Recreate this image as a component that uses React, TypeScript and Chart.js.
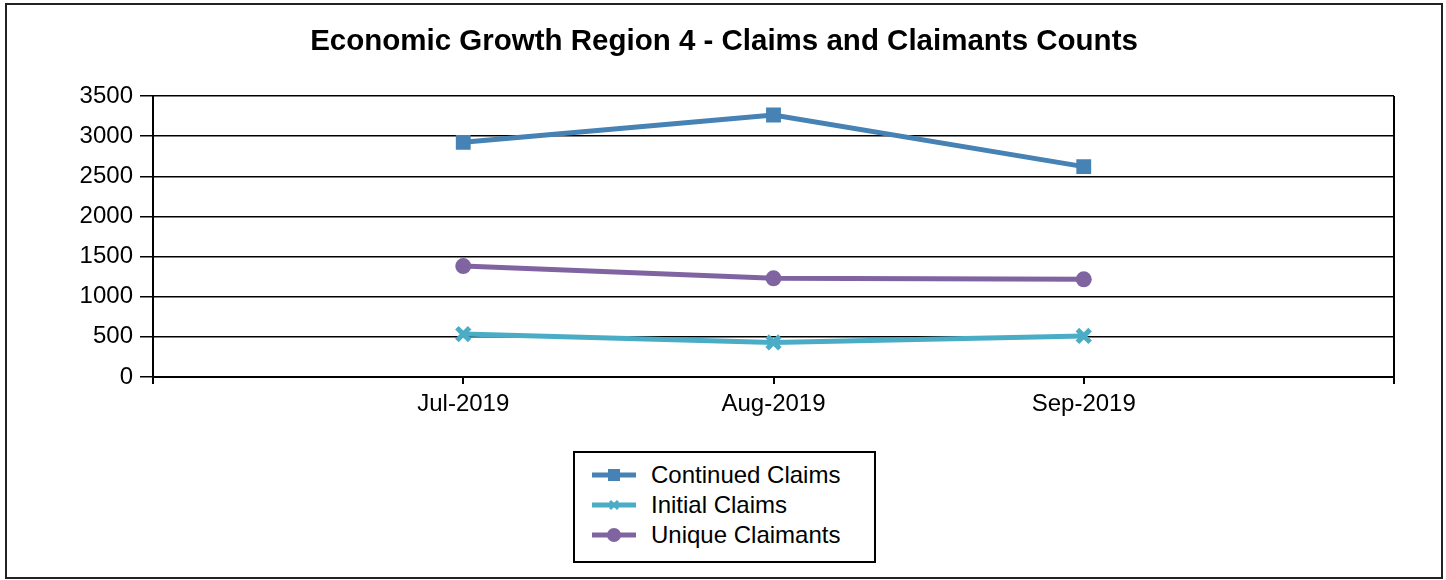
import React, { useEffect, useRef } from "react";
import { Chart, registerables } from "chart.js";

Chart.register(...registerables);

const categories = ["", "Jul-2019", "Aug-2019", "Sep-2019", ""];
const continuedClaims = [null, 2923, 3263, 2620, null];
const initialClaims = [null, 535, 430, 511, null];
const uniqueClaimants = [null, 1382, 1229, 1217, null];
const yTicksMax = 3500;
const yTickStep = 500;

const titleText = "Economic Growth Region 4 - Claims and Claimants Counts";
const FONT = '"Liberation Sans", Arial, sans-serif';

const COLORS = {
  continued: "#4682b4",
  initial: "#4bacc6",
  unique: "#8064a2",
};

const frameBorder = {
  id: "plotBorder",
  afterDraw(chart: any) {
    const { ctx, chartArea } = chart;
    ctx.save();
    ctx.strokeStyle = "#000";
    ctx.lineWidth = 2;
    ctx.beginPath();
    ctx.moveTo(chartArea.right, chartArea.top);
    ctx.lineTo(chartArea.right, chartArea.bottom);
    ctx.stroke();
    ctx.restore();
  },
};

function LegendMarker({ kind, color }: { kind: string; color: string }) {
  return (
    <svg width={44} height={16} style={{ display: "block" }}>
      <line x1={0} y1={8} x2={44} y2={8} stroke={color} strokeWidth={5} />
      {kind === "rect" && <rect x={16} y={2} width={12} height={12} fill={color} />}
      {kind === "cross" && (
        <g stroke={color} strokeWidth={3}>
          <line x1={18} y1={4} x2={26} y2={12} />
          <line x1={18} y1={12} x2={26} y2={4} />
        </g>
      )}
      {kind === "circle" && <circle cx={22} cy={8} r={7} fill={color} />}
    </svg>
  );
}

export default function App() {
  const canvasRef = useRef<HTMLCanvasElement | null>(null);

  useEffect(() => {
    if (!canvasRef.current) return;
    const chart = new Chart(canvasRef.current, {
      type: "line",
      data: {
        labels: categories,
        datasets: [
          {
            label: "Continued Claims",
            data: continuedClaims,
            borderColor: COLORS.continued,
            backgroundColor: COLORS.continued,
            borderWidth: 5,
            pointStyle: "rect",
            pointRadius: 10.5,
            pointBorderWidth: 0,
            tension: 0,
          },
          {
            label: "Initial Claims",
            data: initialClaims,
            borderColor: COLORS.initial,
            backgroundColor: COLORS.initial,
            borderWidth: 5,
            pointStyle: "crossRot",
            pointRadius: 9,
            pointBorderWidth: 5,
            pointBorderColor: COLORS.initial,
            tension: 0,
          },
          {
            label: "Unique Claimants",
            data: uniqueClaimants,
            borderColor: COLORS.unique,
            backgroundColor: COLORS.unique,
            borderWidth: 5,
            pointStyle: "circle",
            pointRadius: 8,
            pointBorderWidth: 0,
            tension: 0,
          },
        ],
      },
      options: {
        animation: false,
        responsive: true,
        maintainAspectRatio: false,
        layout: { padding: { left: 0, right: 0, top: 0, bottom: 0 } },
        plugins: {
          legend: { display: false },
          tooltip: { enabled: false },
          title: {
            display: true,
            text: titleText,
            color: "#000",
            font: { family: FONT, size: 29.5, weight: "bold" },
            padding: { top: 19, bottom: 36.6 },
          },
        },
        scales: {
          x: {
            type: "category",
            offset: false,
            grid: {
              display: true,
              drawOnChartArea: false,
              drawTicks: true,
              tickLength: 7,
              color: "#000",
              lineWidth: 2,
            },
            border: { display: true, color: "#000", width: 2 },
            ticks: {
              color: "#000",
              font: { family: FONT, size: 24 },
              padding: 6,
              autoSkip: false,
              maxRotation: 0,
            },
            afterFit(scale: any) {
              scale.height = 200;
            },
          },
          y: {
            min: 0,
            max: yTicksMax,
            ticks: {
              stepSize: yTickStep,
              color: "#000",
              font: { family: FONT, size: 24 },
              padding: 7,
              callback: (v: any) => String(v),
            },
            grid: { color: "#000", lineWidth: 1.5, tickLength: 13 },
            border: { display: true, color: "#000", width: 2 },
            afterFit(scale: any) {
              scale.width = 146;
            },
          },
          yRightSpacer: {
            type: "linear",
            position: "right",
            display: true,
            min: 0,
            max: yTicksMax,
            ticks: { display: false },
            grid: { display: false, drawTicks: false },
            border: { display: false },
            afterFit(scale: any) {
              scale.width = 47;
            },
          },
        },
      },
      plugins: [frameBorder],
    } as any);
    return () => chart.destroy();
  }, []);

  const legendItems = [
    { label: "Continued Claims", kind: "rect", color: COLORS.continued },
    { label: "Initial Claims", kind: "cross", color: COLORS.initial },
    { label: "Unique Claimants", kind: "circle", color: COLORS.unique },
  ];

  return (
    <div
      style={{
        position: "absolute",
        left: 5,
        top: 3,
        width: 1438,
        height: 576,
        boxSizing: "border-box",
        border: "2px solid #222",
        background: "#fff",
      }}
    >
      <div style={{ position: "relative", width: 1434, height: 572 }}>
        <canvas ref={canvasRef} />
      </div>
      <div
        style={{
          position: "absolute",
          left: 566,
          top: 446,
          width: 303,
          height: 112,
          boxSizing: "border-box",
          border: "2px solid #000",
          background: "#fff",
          fontFamily: FONT,
          fontSize: 24,
          color: "#000",
        }}
      >
        {legendItems.map((it, i) => (
          <div
            key={it.label}
            style={{
              position: "absolute",
              left: 17,
              top: 22 + i * 30 - 15,
              height: 30,
              display: "flex",
              alignItems: "center",
              whiteSpace: "nowrap",
            }}
          >
            <LegendMarker kind={it.kind} color={it.color} />
            <span style={{ marginLeft: 15, lineHeight: "30px" }}>{it.label}</span>
          </div>
        ))}
      </div>
    </div>
  );
}
